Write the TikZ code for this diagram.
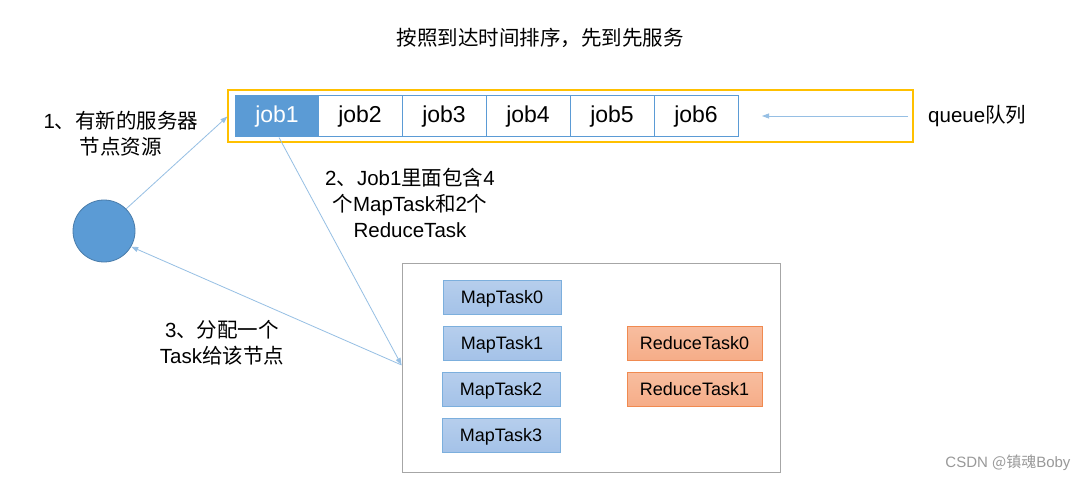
\documentclass[tikz,border=0pt]{standalone}
\usepackage{fontspec}
\setmainfont{Liberation Sans}
\newfontfamily\cjk{Noto Sans CJK SC}
\usetikzlibrary{arrows.meta,positioning}
\definecolor{bl}{HTML}{5B9BD5}
\definecolor{lbl}{HTML}{9DC3E6}
\definecolor{yel}{HTML}{FFC000}
\definecolor{mapfill}{HTML}{A4C2E8}
\definecolor{redfill}{HTML}{F6AD88}
\definecolor{redline}{HTML}{F08A50}
\tikzset{
  jobbox/.style={draw=bl, line width=1pt, fill=white, minimum width=84pt, minimum height=41pt, inner sep=0pt, text height=16pt, text depth=4pt, font=\fontsize{23}{26}\selectfont},
  maptask/.style={draw=bl!80, line width=0.8pt, top color=mapfill!80, bottom color=mapfill, minimum width=118pt, minimum height=34pt, inner sep=0pt, text height=13pt, text depth=1pt, font=\fontsize{18}{20}\selectfont},
  redtask/.style={draw=redline, line width=0.8pt, top color=redfill!80, bottom color=redfill, minimum width=135pt, minimum height=34pt, inner sep=0pt, text height=13pt, text depth=1pt, font=\fontsize{18}{20}\selectfont},
  lbl/.style={align=center, font=\fontsize{20.5}{26}\selectfont, inner sep=0pt},
  conn/.style={draw=lbl!90!bl, line width=0.8pt, -{Triangle[length=7pt,width=5pt]}},
}
\begin{document}
\begin{tikzpicture}[x=1pt,y=-1pt]
\useasboundingbox (0,0) rectangle (1087,481);
\fill[white] (0,0) rectangle (1087,481);
\node[lbl] (title) at (540,38) {\cjk 按照到达时间排序，先到先服务};
\node[draw=yel, line width=1.2pt, minimum width=685pt, minimum height=52pt, inner sep=0pt] (queue) at (570.5,116) {};
\node[jobbox, fill=bl, text=white] (j1) at (277,116.5) {job1};
\node[jobbox] (j2) at (360,116.5) {job2};
\node[jobbox] (j3) at (444,116.5) {job3};
\node[jobbox] (j4) at (528,116.5) {job4};
\node[jobbox] (j5) at (612,116.5) {job5};
\node[jobbox] (j6) at (696,116.5) {job6};
\coordinate (qs) at (908,116);
\coordinate (qe) at (762,116);
\draw[conn] (qs) -- (qe);
\node[lbl, anchor=west] (qlabel) at (928,116) {queue{\cjk 队列}};
\node[circle, draw=bl!80!black, line width=0.8pt, fill=bl, minimum size=62pt, inner sep=0pt] (node) at (104,231) {};
\node[lbl] (l1) at (121,134) {1{\cjk 、有新的服务器}\\{\cjk 节点资源}};
\node[lbl] (l2) at (410,203) {2{\cjk 、}Job1{\cjk 里面包含}4\\{\cjk 个}MapTask{\cjk 和}2{\cjk 个}\\ReduceTask};
\node[lbl] (l3) at (222,343) {3{\cjk 、分配一个}\\Task{\cjk 给该节点}};
\node[draw=gray!70, line width=1pt, minimum width=378pt, minimum height=209pt, inner sep=0pt] (box) at (591,367.5) {};
\node[maptask] (m0) at (502,297) {MapTask0};
\node[maptask] (m1) at (502,343) {MapTask1};
\node[maptask] (m2) at (501,389) {MapTask2};
\node[maptask] (m3) at (501,435) {MapTask3};
\node[redtask] (r0) at (694.5,343) {ReduceTask0};
\node[redtask] (r1) at (694.5,389) {ReduceTask1};
\coordinate (bl) at (box.west |- 0,365);
\draw[conn] (node.45) -- (queue.west |- j1.center);
\draw[conn] (j1.south) ++(2,0) -- (bl);
\draw[conn] (bl) -- (node.-30);
\node[font=\fontsize{15}{17}\selectfont, text=gray!80, anchor=east] (wm) at (1074,463) {CSDN {\cjk @镇魂}Boby};
\end{tikzpicture}
\end{document}
